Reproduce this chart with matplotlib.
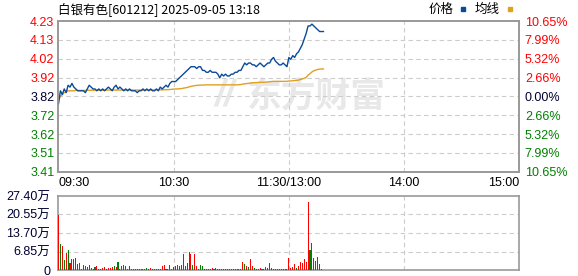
import matplotlib
matplotlib.use('agg')
import matplotlib.pyplot as plt

plt.rcParams['font.family'] = ['Liberation Sans', 'Noto Sans CJK SC', 'DejaVu Sans']

title = "白银有色[601212] 2025-09-05 13:18"
pre_close = 3.82
limit_pct = 10.65

# minute prices, 09:30 .. 11:30 then 13:01 .. 13:18
price = [3.78, 3.85, 3.83, 3.86, 3.84, 3.88, 3.87, 3.89, 3.87, 3.86,
         3.85, 3.85, 3.85, 3.85, 3.84, 3.86, 3.88, 3.87, 3.86, 3.86,
         3.85, 3.86, 3.85, 3.86, 3.85, 3.86, 3.87, 3.86, 3.85, 3.87,
         3.88, 3.86, 3.87, 3.86, 3.85, 3.86, 3.85, 3.86, 3.85, 3.85,
         3.85, 3.84, 3.85, 3.85, 3.86, 3.85, 3.86, 3.85, 3.86, 3.85,
         3.85, 3.86, 3.85, 3.87, 3.86, 3.87, 3.88, 3.87, 3.89, 3.90,
         3.90, 3.90, 3.91, 3.92, 3.93, 3.94, 3.95, 3.96, 3.97, 3.98,
         3.98, 3.98, 3.97, 3.98, 3.98, 3.96, 3.96, 3.95, 3.95, 3.96,
         3.95, 3.95, 3.95, 3.94, 3.92, 3.94, 3.93, 3.94, 3.93, 3.93,
         3.94, 3.94, 3.95, 3.95, 3.96, 3.96, 3.98, 4.00, 3.99, 4.00,
         4.00, 3.99, 3.99, 3.98, 3.99, 4.00, 3.99, 3.98, 3.99, 4.00,
         4.00, 4.02, 4.03, 4.01, 4.00, 3.99, 3.99, 4.00, 3.99, 3.98,
         4.03, 4.02, 4.04, 4.03, 4.05, 4.06, 4.08, 4.10, 4.13, 4.16,
         4.20, 4.20, 4.21, 4.20, 4.19, 4.18, 4.17, 4.17, 4.17]

avg = [3.80, 3.82, 3.83, 3.84, 3.845, 3.85, 3.85, 3.85, 3.85, 3.852,
       3.852, 3.852, 3.852, 3.852, 3.852, 3.853, 3.853, 3.853, 3.853, 3.853,
       3.853, 3.853, 3.853, 3.853, 3.853, 3.854, 3.854, 3.854, 3.854, 3.854,
       3.854, 3.854, 3.854, 3.854, 3.854, 3.854, 3.854, 3.854, 3.854, 3.854,
       3.854, 3.854, 3.854, 3.854, 3.854, 3.854, 3.854, 3.854, 3.854, 3.854,
       3.855, 3.855, 3.855, 3.855, 3.855, 3.856, 3.856, 3.856, 3.857, 3.858,
       3.859, 3.86, 3.86, 3.861, 3.862, 3.864, 3.866, 3.868, 3.871, 3.874,
       3.876, 3.878, 3.879, 3.88, 3.881, 3.881, 3.881, 3.882, 3.882, 3.882,
       3.882, 3.882, 3.882, 3.882, 3.882, 3.882, 3.882, 3.882, 3.882, 3.882,
       3.882, 3.882, 3.882, 3.882, 3.883, 3.884, 3.886, 3.888, 3.889, 3.89,
       3.892, 3.893, 3.894, 3.894, 3.895, 3.896, 3.896, 3.896, 3.897, 3.898,
       3.899, 3.900, 3.901, 3.901, 3.901, 3.901, 3.901, 3.901, 3.901, 3.901,
       3.903, 3.903, 3.904, 3.905, 3.906, 3.908, 3.911, 3.914, 3.918, 3.922,
       3.935, 3.942, 3.952, 3.958, 3.962, 3.965, 3.967, 3.968, 3.968]

# volume in 万 shares and colour per minute
volume = [20.4, 9.6, 8.9, 3.7, 6.2, 7.4, 2.6, 4.1, 4.1, 4.6,
          2.2, 2.6, 0.4, 1.9, 1.5, 1.1, 1.9, 0.7, 0.4, 1.1,
          1.5, 0.4, 0.4, 0.7, 1.1, 0.4, 0.7, 0.7, 1.1, 1.5,
          1.1, 3.0, 0.4, 1.5, 1.9, 1.5, 0.4, 1.5, 0.4, 0.4,
          0.4, 0.4, 0.4, 0.4, 0.4, 0.4, 0.7, 0.4, 0.7, 0.4,
          0.4, 0.4, 0.4, 0.4, 1.5, 1.9, 0.4, 0.4, 1.9, 0.4,
          1.1, 1.5, 1.9, 1.5, 1.9, 5.9, 1.5, 2.6, 6.7, 5.9,
          1.9, 5.9, 1.5, 0.4, 1.9, 1.5, 0.4, 0.4, 0.4, 0.4,
          0.7, 0.4, 0.7, 0.4, 0.4, 0.4, 0.4, 0.4, 0.4, 0.4,
          0.4, 0.4, 0.4, 0.4, 0.4, 0.4, 3.0, 2.2, 1.5, 1.1,
          4.1, 1.5, 0.7, 0.4, 0.4, 0.7, 0.4, 0.4, 1.1, 0.7,
          2.6, 0.7, 0.4, 0.4, 0.4, 0.4, 0.4, 0.4, 0.4, 0.4,
          4.4, 0.7, 1.1, 2.2, 0.7, 1.5, 3.0, 2.6, 4.1, 3.0,
          25.2, 7.4, 10.0, 4.4, 3.3, 4.8, 2.2, 0.4, 0.0]
vol_color = ("rgrgrgrrgg" "rrrgrrggrg" "rggrrgrrrg" "rgrrrgrgrr"
             "rrrrrrgrrr" "rrrrrrrrrr" "rrrrgrrgrr" "grrrgggggg"
             "rrrggggggr" "rrrrrgrgrg" "rrgggrggrr" "rgrgrgrgrg"
             "rrrrgrrrrr" "rgrrrggrr")

price_ticks = ["4.23", "4.13", "4.02", "3.92", "3.82", "3.72", "3.62", "3.51", "3.41"]
pct_ticks = ["10.65%", "7.99%", "5.32%", "2.66%", "0.00%", "2.66%", "5.32%", "7.99%", "10.65%"]
time_ticks = ["09:30", "10:30", "11:30/13:00", "14:00", "15:00"]
vol_ticks = ["0", "6.85万", "13.70万", "20.55万", "27.40万"]
vol_tick_vals = [0, 6.85, 13.70, 20.55, 27.40]

RED = '#ff0000'
GREEN = '#008000'
DARK = '#000033'
GRID = '#cccccc'
FRAME = '#999999'

fig = plt.figure(figsize=(5.78, 2.76), dpi=100)
fig.patch.set_facecolor('white')

ax = fig.add_axes([0.1012, 0.3779, 0.7972, 0.546])
vax = fig.add_axes([0.1012, 0.0217, 0.7972, 0.2682])

lo = pre_close * (1 - limit_pct / 100)
hi = pre_close * (1 + limit_pct / 100)
tick_pos = [hi - i * (hi - lo) / 8 for i in range(9)]

x = list(range(len(price)))

# watermark
ax.text(0.56, 0.5, "东方财富", transform=ax.transAxes, fontsize=25,
        fontweight='bold', color='#e8e8e8', ha='center', va='center',
        family=['Noto Sans CJK SC'], zorder=0)
ax.text(0.36, 0.5, "//", transform=ax.transAxes, fontsize=26,
        fontweight='bold', color='#e8e8e8', ha='center', va='center',
        style='italic', zorder=0)

ax.plot(x, avg, color='#e0a020', lw=1.0, zorder=3)
ax.plot(x, price, color='#0a4a9a', lw=1.0, zorder=4)
ax.set_xlim(0, 240)
ax.set_ylim(lo, hi)

ax.set_yticks(tick_pos)
ax.set_yticklabels(price_ticks)
for i, lab in enumerate(ax.get_yticklabels()):
    lab.set_color(RED if i < 4 else (DARK if i == 4 else GREEN))
ax.tick_params(axis='y', length=0, pad=3, labelsize=9)

ax.set_xticks([0, 60, 120, 180, 240])
ax.set_xticklabels(time_ticks)
ax.tick_params(axis='x', length=0, pad=4, labelsize=9, labelcolor='black')
labs = ax.get_xticklabels()
labs[0].set_ha('left')
labs[-1].set_ha('right')

ax2 = ax.twinx()
ax2.set_ylim(lo, hi)
ax2.set_yticks(tick_pos)
ax2.set_yticklabels(pct_ticks)
for i, lab in enumerate(ax2.get_yticklabels()):
    lab.set_color(RED if i < 4 else (DARK if i == 4 else GREEN))
ax2.tick_params(axis='y', length=0, pad=4, labelsize=9)

for t in tick_pos[1:-1]:
    ax.axhline(t, color=GRID, lw=0.8, ls=(0, (4, 3)), zorder=1)
for t in [60, 120, 180]:
    ax.axvline(t, color=GRID, lw=0.8, ls=(0, (4, 3)), zorder=1)

for a in (ax, ax2, vax):
    for s in a.spines.values():
        s.set_color(FRAME)
        s.set_linewidth(1.2)

# volume
colors = [RED if c == 'r' else GREEN for c in vol_color]
vax.bar(x, volume, width=0.55, color=colors, zorder=3)
vax.set_xlim(0, 240)
vax.set_ylim(0, 27.4)
vax.set_xticks([])
vax.set_yticks(vol_tick_vals)
vax.set_yticklabels(vol_ticks)
vax.tick_params(axis='y', length=0, pad=6, labelsize=9, labelcolor=DARK)
for t in vol_tick_vals[1:-1]:
    vax.axhline(t, color=GRID, lw=0.8, ls=(0, (4, 3)), zorder=1)
for t in [60, 120, 180]:
    vax.axvline(t, color=GRID, lw=0.8, ls=(0, (4, 3)), zorder=1)

# title and legend
fig.text(58.5 / 578, 1 - 9 / 276, title, fontsize=9, ha='left', va='center',
         family=['Noto Sans CJK SC'])
fig.text(454 / 578, 1 - 9 / 276, "价格", fontsize=9, ha='right', va='center',
         family=['Noto Sans CJK SC'])
fig.patches.append(plt.Rectangle((461 / 578, 1 - 10.5 / 276), 4 / 578, 3 / 276,
                                 transform=fig.transFigure, color='#0a4a9a', figure=fig))
fig.text(500 / 578, 1 - 9 / 276, "均线", fontsize=9, ha='right', va='center',
         family=['Noto Sans CJK SC'])
fig.patches.append(plt.Rectangle((508 / 578, 1 - 10.5 / 276), 4 / 578, 3 / 276,
                                 transform=fig.transFigure, color='#e0a020', figure=fig))

fig.savefig('out.png', dpi=100)
